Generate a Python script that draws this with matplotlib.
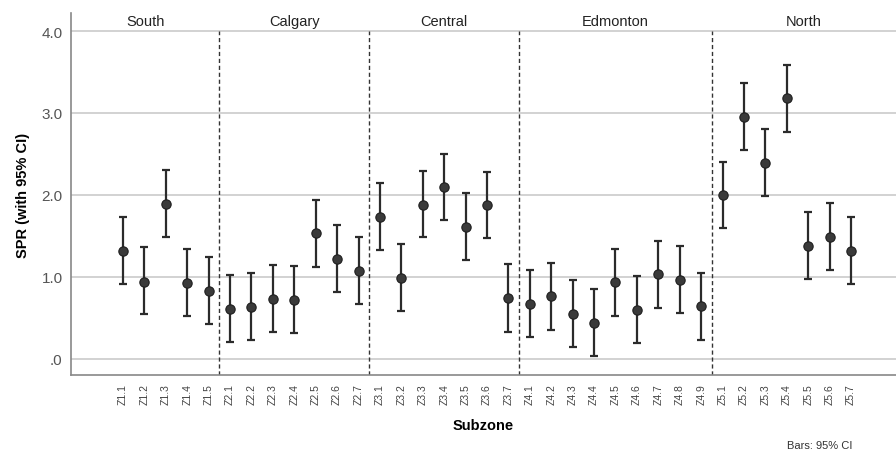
import matplotlib.pyplot as plt
import numpy as np

plt.rcParams['font.family'] = ['Liberation Sans', 'DejaVu Sans']

# subzones per zone
zones = ['South', 'Calgary', 'Central', 'Edmonton', 'North']
zone_sizes = [5, 7, 7, 9, 7]
subzones = ['Z%d.%d' % (z + 1, k + 1) for z, n in enumerate(zone_sizes) for k in range(n)]

spr = [1.31, 0.94, 1.89, 0.92, 0.83,
       0.61, 0.63, 0.73, 0.71, 1.53, 1.22, 1.07,
       1.73, 0.99, 1.88, 2.09, 1.61, 1.87, 0.74,
       0.67, 0.76, 0.55, 0.44, 0.93, 0.59, 1.03, 0.96, 0.64,
       2.00, 2.95, 2.39, 3.18, 1.38, 1.49, 1.32]
ci_low = [0.91, 0.54, 1.48, 0.52, 0.42,
          0.20, 0.23, 0.33, 0.31, 1.12, 0.81, 0.67,
          1.33, 0.58, 1.48, 1.69, 1.20, 1.47, 0.33,
          0.26, 0.35, 0.14, 0.03, 0.52, 0.19, 0.62, 0.56, 0.23,
          1.59, 2.55, 1.98, 2.77, 0.97, 1.08, 0.91]
ci_high = [1.73, 1.36, 2.30, 1.34, 1.24,
           1.02, 1.04, 1.14, 1.13, 1.94, 1.63, 1.48,
           2.14, 1.40, 2.29, 2.50, 2.02, 2.28, 1.15,
           1.08, 1.17, 0.96, 0.85, 1.34, 1.01, 1.44, 1.37, 1.05,
           2.40, 3.37, 2.80, 3.59, 1.79, 1.90, 1.73]

x = np.arange(len(subzones))
spr = np.array(spr)
yerr = [spr - np.array(ci_low), np.array(ci_high) - spr]

fig = plt.figure(figsize=(8.96, 4.56), dpi=100)
ax = fig.add_axes([0.0792, 0.1754, 0.9208, 0.7939])

xmin, xmax = -2.43, 36.1
ymin, ymax = -0.2, 4.22
ax.set_xlim(xmin, xmax)
ax.set_ylim(ymin, ymax)

for v in [0, 1, 2, 3, 4]:
    ax.axhline(v, color='#cfcfcf', lw=1.3, zorder=0)

ax.errorbar(x, spr, yerr=yerr, fmt='none', ecolor='#2b2b2b', elinewidth=1.6,
            capsize=3, capthick=1.6, zorder=2)
ax.scatter(x, spr, s=45, color='#3a3a3a', edgecolor='#1e1e1e', linewidth=0.8, zorder=3)

# zone separators and labels
bounds = np.cumsum(zone_sizes) - 0.5
edges = [xmin] + list(bounds[:-1]) + [xmax]
ax.vlines(bounds[:-1], ymin, 4.0, color='#333333', lw=1.0, ls=(0, (3, 2)), zorder=1)
for i, name in enumerate(zones):
    ax.text((edges[i] + edges[i + 1]) / 2, 4.12, name, ha='center', va='center',
            fontsize=10.5, color='#222222')

ax.set_xticks(x)
ax.set_xticklabels(subzones, rotation=90, fontsize=7.5, color='#444444')
ax.set_yticks([0, 1, 2, 3, 4])
ax.set_yticklabels(['.0', '1.0', '2.0', '3.0', '4.0'], fontsize=11, color='#555555')
ax.tick_params(length=0, pad=6)

for s in ['top', 'right']:
    ax.spines[s].set_visible(False)
for s in ['left', 'bottom']:
    ax.spines[s].set_color('#888888')
    ax.spines[s].set_linewidth(1.2)

ax.set_ylabel('SPR (with 95% CI)', fontsize=10.5, fontweight='bold', labelpad=8)
ax.set_xlabel('Subzone', fontsize=10.5, fontweight='bold', labelpad=10)

fig.text(0.915, 0.012, 'Bars: 95% CI', fontsize=8, color='#333333', ha='center', va='bottom')

fig.savefig('out.png', dpi=100)
